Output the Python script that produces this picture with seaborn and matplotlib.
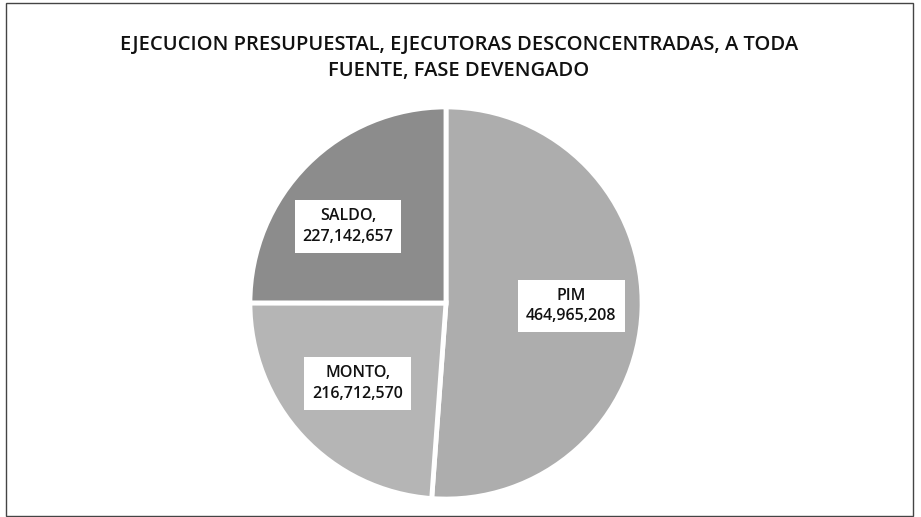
import matplotlib
matplotlib.use("Agg")
import matplotlib.pyplot as plt
import seaborn as sns
from matplotlib.patches import Rectangle

sns.set_theme(style="white")
plt.rcParams['font.family'] = ['Open Sans', 'DejaVu Sans']

title_lines = ["EJECUCION PRESUPUESTAL, EJECUTORAS DESCONCENTRADAS, A TODA",
               "FUENTE, FASE DEVENGADO"]
categories = ["PIM", "MONTO", "SALDO"]
values = [464965208, 216712570, 227142657]
label_fmt = ["{}\n{:,}", "{},\n{:,}", "{},\n{:,}"]
colors = ["#adadad", "#b5b5b5", "#8c8c8c"]
label_pos = [(0.64, -0.015), (-0.45, -0.41), (-0.50, 0.39)]

W, H = 921, 517
fig = plt.figure(figsize=(W / 100, H / 100), dpi=100)
fig.patch.set_facecolor("white")

# border
fig.add_artist(Rectangle((6 / W, 1 / H), (913 - 6) / W, (514 - 1) / H,
                         transform=fig.transFigure, fill=False,
                         edgecolor="#444444", linewidth=1.0))

# title
fig.text(459 / W, 1 - 45 / H, title_lines[0], ha="center", va="center",
         fontsize=14.5, fontweight="semibold", color="#111111")
fig.text(459 / W, 1 - 71 / H, title_lines[1], ha="center", va="center",
         fontsize=14.5, fontweight="semibold", color="#111111")

cx, cy, r = 446, 303, 200
ax = fig.add_axes([(cx - r) / W, (H - cy - r) / H, 2 * r / W, 2 * r / H])
wedges, _ = ax.pie(values, colors=colors, startangle=90, counterclock=False,
                   radius=1.0, wedgeprops=dict(edgecolor="white", linewidth=3.5))
ax.set_xlim(-1.02, 1.02)
ax.set_ylim(-1.02, 1.02)
ax.set_aspect("equal")
ax.axis("off")

for cat, val, fmt, (lx, ly) in zip(categories, values, label_fmt, label_pos):
    ax.text(lx, ly, fmt.format(cat, val), ha="center", va="center",
            fontsize=11.5, fontweight="semibold", color="#111111",
            linespacing=1.4,
            bbox=dict(boxstyle="square,pad=0.5", facecolor="white",
                      edgecolor="none"))

fig.savefig("out.png", dpi=100, facecolor="white")
